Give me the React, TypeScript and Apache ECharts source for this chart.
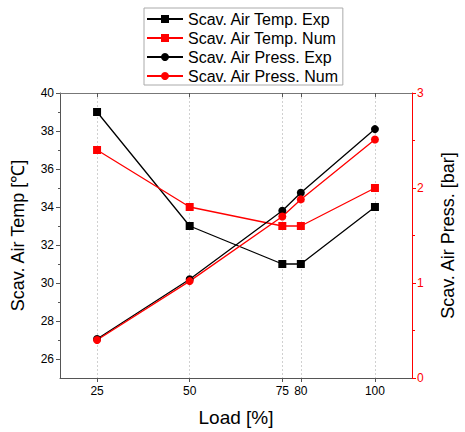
import React, { useEffect, useRef } from "react";
import * as echarts from "echarts";

const loads = [25, 50, 75, 80, 100];
const tempExp = [39, 33, 31, 31, 34];
const tempNum = [37, 34, 33, 33, 35];
const pressExp = [0.41, 1.04, 1.76, 1.95, 2.62];
const pressNum = [0.4, 1.02, 1.7, 1.88, 2.51];
const xTicks = [25, 50, 75, 80, 100];
const tempMajor = [26, 28, 30, 32, 34, 36, 38, 40];
const tempMinor = [27, 29, 31, 33, 35, 37, 39];

const FONT = "Liberation Sans, Arial, sans-serif";

export default function App() {
  const ref = useRef<HTMLDivElement>(null);
  useEffect(() => {
    const chart = echarts.init(ref.current!, undefined, { renderer: "svg" });
    const pair = (ys: number[]) => loads.map((x, i) => [x, ys[i]]);
    const axisGray = "#555";
    chart.setOption({
      animation: false,
      textStyle: { fontFamily: FONT },
      grid: { left: 60, right: 46, top: 93, bottom: 51, containLabel: false },
      legend: {
        orient: "vertical",
        left: 144,
        top: 8,
        backgroundColor: "#fff",
        borderColor: "#aaa",
        borderWidth: 1,
        padding: [3, 4, 1, 2],
        itemWidth: 36,
        itemHeight: 10,
        itemGap: 3,
        textStyle: { fontSize: 16, color: "#000", fontFamily: FONT },
        data: [
          "Scav. Air Temp. Exp",
          "Scav. Air Temp. Num",
          "Scav. Air Press. Exp",
          "Scav. Air Press. Num",
        ],
      },
      xAxis: [
        {
          type: "value",
          min: 15,
          max: 110,
          name: "Load [%]",
          nameLocation: "middle",
          nameGap: 30,
          nameTextStyle: { fontSize: 19, color: "#000", fontFamily: FONT },
          axisLine: { lineStyle: { color: axisGray, width: 1 } },
          axisTick: { customValues: xTicks, length: 4, lineStyle: { color: axisGray } },
          axisLabel: { customValues: xTicks, fontSize: 12, color: "#000", margin: 7 },
          splitLine: {
            show: true,
            customValues: xTicks,
            lineStyle: { type: [2, 2], color: "#d0d0d0", width: 1 },
          },
        },
        {
          type: "value",
          position: "top",
          min: 15,
          max: 110,
          axisLine: { lineStyle: { color: "#777", width: 1 } },
          axisTick: { inside: true, customValues: xTicks, length: 4, lineStyle: { color: axisGray } },
          axisLabel: { show: false },
          splitLine: { show: false },
        },
      ],
      yAxis: [
        {
          type: "value",
          position: "left",
          min: 25,
          max: 40,
          interval: 1,
          name: "Scav. Air Temp [℃]",
          nameLocation: "middle",
          nameGap: 33,
          nameTextStyle: { fontSize: 18, color: "#000", fontFamily: FONT },
          axisLine: { show: true, lineStyle: { color: axisGray, width: 1 } },
          axisTick: { customValues: tempMajor, length: 4, lineStyle: { color: axisGray } },
          axisLabel: { customValues: tempMajor, fontSize: 12, color: "#000", margin: 6 },
          splitLine: { show: false },
        },
        {
          type: "value",
          position: "right",
          min: 0,
          max: 3,
          interval: 1,
          name: "Scav. Air Press. [bar]",
          nameLocation: "middle",
          nameGap: 27,
          nameRotate: 90,
          nameTextStyle: { fontSize: 18, color: "#000", fontFamily: FONT },
          axisLine: { show: true, lineStyle: { color: "#ff0000", width: 1 } },
          axisTick: { length: 4, lineStyle: { color: "#ff0000" } },
          minorTick: { show: true, splitNumber: 2, length: 3, lineStyle: { color: "#ff0000" } },
          axisLabel: { fontSize: 12, color: "#ff0000", margin: 5 },
          splitLine: { show: false },
        },
        {
          type: "value",
          position: "left",
          min: 25,
          max: 40,
          interval: 1,
          axisLine: { show: false },
          axisTick: { customValues: tempMinor, length: 2, lineStyle: { color: axisGray } },
          axisLabel: { show: false },
          splitLine: { show: false },
        },
      ],
      series: [
        {
          name: "Scav. Air Temp. Exp",
          type: "line",
          yAxisIndex: 0,
          data: pair(tempExp),
          symbol: "rect",
          symbolSize: 8,
          color: "#000",
          lineStyle: { color: "#000", width: 1.3 },
          itemStyle: { color: "#000" },
        },
        {
          name: "Scav. Air Temp. Num",
          type: "line",
          yAxisIndex: 0,
          data: pair(tempNum),
          symbol: "rect",
          symbolSize: 8,
          color: "#ff0000",
          lineStyle: { color: "#ff0000", width: 1.3 },
          itemStyle: { color: "#ff0000" },
        },
        {
          name: "Scav. Air Press. Exp",
          type: "line",
          yAxisIndex: 1,
          data: pair(pressExp),
          symbol: "circle",
          symbolSize: 8,
          color: "#000",
          lineStyle: { color: "#000", width: 1.3 },
          itemStyle: { color: "#000" },
        },
        {
          name: "Scav. Air Press. Num",
          type: "line",
          yAxisIndex: 1,
          data: pair(pressNum),
          symbol: "circle",
          symbolSize: 8,
          color: "#ff0000",
          lineStyle: { color: "#ff0000", width: 1.3 },
          itemStyle: { color: "#ff0000" },
        },
      ],
    });
    return () => chart.dispose();
  }, []);
  return (
    <div
      ref={ref}
      style={{ position: "absolute", left: 0, top: 0, width: 465, height: 432, background: "#fff" }}
    />
  );
}
